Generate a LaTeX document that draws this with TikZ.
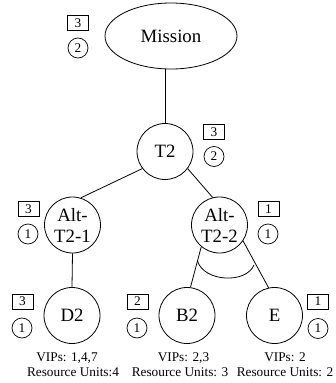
\documentclass[tikz,border=0pt]{standalone}
\usepackage{fontspec}
\setmainfont{Liberation Serif}
\usetikzlibrary{shapes.geometric}
\tikzset{
  goal/.style={draw, circle, line width=0.8pt, minimum size=56pt, inner sep=0pt, font=\fontsize{18.8}{21}\selectfont, align=center},
  mission/.style={draw, ellipse, line width=0.8pt, minimum width=132pt, minimum height=66pt, inner sep=0pt, font=\fontsize{18.8}{21}\selectfont},
  numbox/.style={draw, rectangle, line width=0.7pt, minimum width=21pt, minimum height=15pt, inner sep=0pt, font=\fontsize{13.3}{15}\selectfont},
  numcirc/.style={draw, circle, line width=0.7pt, minimum size=20pt, inner sep=0pt, font=\fontsize{13.3}{15}\selectfont},
  info/.style={anchor=base, inner sep=0pt, font=\fontsize{13.3}{15}\selectfont},
  link/.style={line width=0.8pt}
}
\begin{document}
\begin{tikzpicture}[x=1pt,y=-1pt]
\useasboundingbox (0,0) rectangle (335,383);
\node[mission] (M) at (171,36) {Mission};
\node[numbox] (Mb) at (78,23) {3};
\node[numcirc] (Mc) at (78,48) {2};

\node[goal] (T2) at (165,151.5) {T2};
\node[numbox] (T2b) at (214,132) {3};
\node[numcirc] (T2c) at (214,156.5) {2};

\node[goal] (A1) at (72.5,225) {Alt-\\T2-1};
\node[numbox] (A1b) at (28.5,209) {3};
\node[numcirc] (A1c) at (28,234) {1};

\node[goal] (A2) at (219.5,225) {Alt-\\T2-2};
\node[numbox] (A2b) at (268.5,209) {1};
\node[numcirc] (A2c) at (268,234) {1};

\node[goal] (D2) at (72,315.5) {D2};
\node[numbox] (D2b) at (22.5,301.5) {3};
\node[numcirc] (D2c) at (22,328) {1};

\node[goal] (B2) at (187,315.5) {B2};
\node[numbox] (B2b) at (137.5,301.5) {2};
\node[numcirc] (B2c) at (137,328) {1};

\node[goal] (E) at (274.5,315.5) {E};
\node[numbox] (Eb) at (318,301.5) {1};
\node[numcirc] (Ec) at (318,328.5) {1};

\node[info] (D2v) at (67,361) {VIPs: 1,4,7};
\node[info] (D2r) at (73,376) {Resource Units:4};
\node[info] (B2v) at (183.5,361) {VIPs: 2,3};
\node[info] (B2r) at (180,376) {Resource Units: 3};
\node[info] (Ev) at (285,361) {VIPs: 2};
\node[info] (Er) at (285,376) {Resource Units: 2};

\draw[link] (T2.north) -- (T2.north |- M.south);
\draw[link] (T2.217) -- (A1.73);
\draw[link] (T2.323) -- (A2.104);
\draw[link] (A1.south) -- (D2.north);
\draw[link] (A2.230) -- (B2.83);
\draw[link] (A2.326) -- (E.102);
\draw[link] (197.5,261) .. controls (204,282) and (246,284) .. (254,265);
\end{tikzpicture}
\end{document}
